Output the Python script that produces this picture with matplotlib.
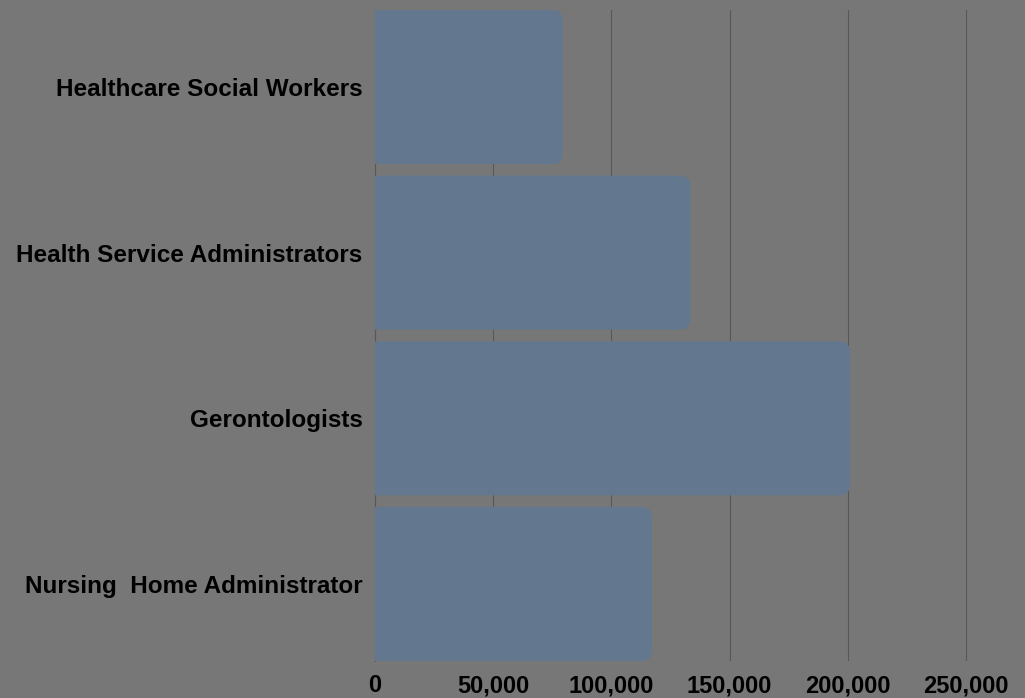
import matplotlib.pyplot as plt
from matplotlib.patches import FancyBboxPatch

# data
jobs = ['Healthcare Social Workers', 'Health Service Administrators',
        'Gerontologists', 'Nursing  Home Administrator']
salaries = [79500, 133500, 201000, 117200]
xticks = [0, 50000, 100000, 150000, 200000, 250000]

bg = '#777777'
bar_color = '#63788f'
grid_color = '#575757'

plt.rcParams['font.family'] = ['Liberation Sans', 'DejaVu Sans']

fig = plt.figure(figsize=(10.25, 6.98), dpi=100, facecolor=bg)
ax = fig.add_axes([375 / 1025, 1 - 661 / 698, 650 / 1025, 651 / 698])
ax.set_facecolor(bg)

h = 0.93
ypos = list(range(len(jobs)))
bars = ax.barh(ypos, salaries, height=h, color=bar_color, zorder=2)

# swap the plain bars for ones with rounded ends
r = 4500
for b in bars:
    x0, y0 = b.get_x(), b.get_y()
    w, hh = b.get_width(), b.get_height()
    b.set_visible(False)
    p = FancyBboxPatch((x0 - r, y0), w + r, hh,
                       boxstyle=f'round,pad=0,rounding_size={r}',
                       mutation_aspect=1.42e-5,
                       facecolor=bar_color, edgecolor='none', zorder=2)
    ax.add_patch(p)

ax.set_xlim(0, 275000)
ax.set_ylim(len(jobs) - 1 + h / 2, -h / 2)
ax.set_yticks(ypos)
ax.set_yticklabels(jobs, fontsize=17.5, fontweight='bold')
ax.set_xticks(xticks)
ax.set_xticklabels([f'{v:,}' for v in xticks], fontsize=17, fontweight='bold')
ax.tick_params(axis='both', length=0)
ax.tick_params(axis='x', pad=9.5)
ax.tick_params(axis='y', pad=9)

ax.grid(axis='x', color=grid_color, linewidth=0.8, zorder=1)
for s in ['top', 'right', 'bottom']:
    ax.spines[s].set_visible(False)
ax.spines['left'].set_color(grid_color)
ax.spines['left'].set_linewidth(0.8)
ax.spines['left'].set_zorder(1)

fig.savefig('out.png', dpi=100, facecolor=bg)
